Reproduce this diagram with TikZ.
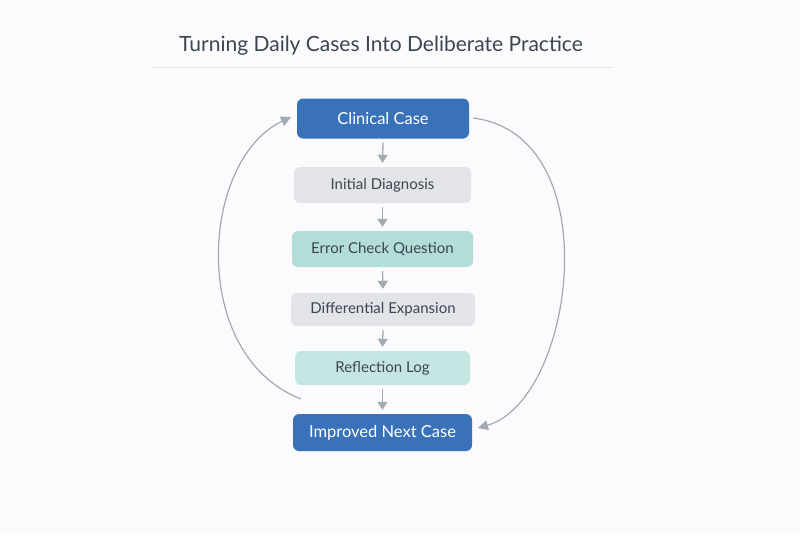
\documentclass[tikz,border=0pt]{standalone}
\usepackage{fontspec}
\setmainfont{Lato}
\usetikzlibrary{arrows.meta}
\definecolor{bgc}{HTML}{FBFBFD}
\definecolor{dblue}{HTML}{3A72BA}
\definecolor{lgray}{HTML}{E3E4E8}
\definecolor{teal1}{HTML}{B3DDD9}
\definecolor{teal2}{HTML}{C4E5E2}
\definecolor{txt}{HTML}{3C4552}
\definecolor{arr}{HTML}{A3A9B2}
\definecolor{rulec}{HTML}{E4E6EA}
\tikzset{
  box/.style={rounded corners=6pt, minimum height=36pt, inner sep=0pt, font=\fontsize{15}{17}\selectfont, text=txt},
  darkbox/.style={box, fill=dblue, text=white, minimum height=40pt, font=\fontsize{16.5}{18}\selectfont},
  graybox/.style={box, fill=lgray},
  tealbox/.style={box, fill=teal1},
  teal2box/.style={box, fill=teal2},
  flow/.style={draw=arr, line width=1.3pt, -{Triangle[length=8pt,width=10pt]}},
  loop/.style={draw=arr, line width=1.2pt, -{Triangle[length=10pt,width=10pt]}},
}
\begin{document}
\begin{tikzpicture}[x=1pt,y=-1pt]
\fill[bgc] (0,0) rectangle (800,533);
\useasboundingbox (0,0) rectangle (800,533);
\node[text=txt, font=\fontsize{21}{24}\selectfont] (title) at (381,46) {Turning Daily Cases Into Deliberate Practice};
\coordinate (rl) at (152,67);
\coordinate (rr) at (614,67);
\draw[rulec, line width=0.8pt] (rl) -- (rr);
\node[darkbox, minimum width=172pt] (cc) at (383,118.5) {Clinical Case};
\node[graybox, minimum width=177pt] (id) at (382.5,185) {Initial Diagnosis};
\node[tealbox, minimum width=181pt] (ec) at (382.5,249) {Error Check Question};
\node[graybox, minimum width=184pt, minimum height=33pt] (de) at (383,309.5) {Differential Expansion};
\node[teal2box, minimum width=175pt, minimum height=34pt] (rf) at (382.5,368) {Reflection Log};
\node[darkbox, minimum width=179pt, minimum height=37pt] (in) at (382.5,432.5) {Improved Next Case};
\draw[flow] ([yshift=-4pt]cc.south) -- ([yshift=4pt]id.north);
\draw[flow] ([yshift=-4pt]id.south) -- ([yshift=4pt]ec.north);
\draw[flow] ([yshift=-4pt]ec.south) -- ([yshift=4pt]de.north);
\draw[flow] ([yshift=-4pt]de.south) -- ([yshift=4pt]rf.north);
\draw[flow] ([yshift=-4pt]rf.south) -- ([yshift=4pt]in.north);
\coordinate (ls) at (301,399);
\coordinate (le) at (291,117);
\draw[loop] (ls) .. controls (188,355) and (200,160) .. (le);
\coordinate (rs) at (473,118);
\coordinate (re) at (478,428);
\draw[loop] (rs) .. controls (610,135) and (575,400) .. (re);
\end{tikzpicture}
\end{document}
